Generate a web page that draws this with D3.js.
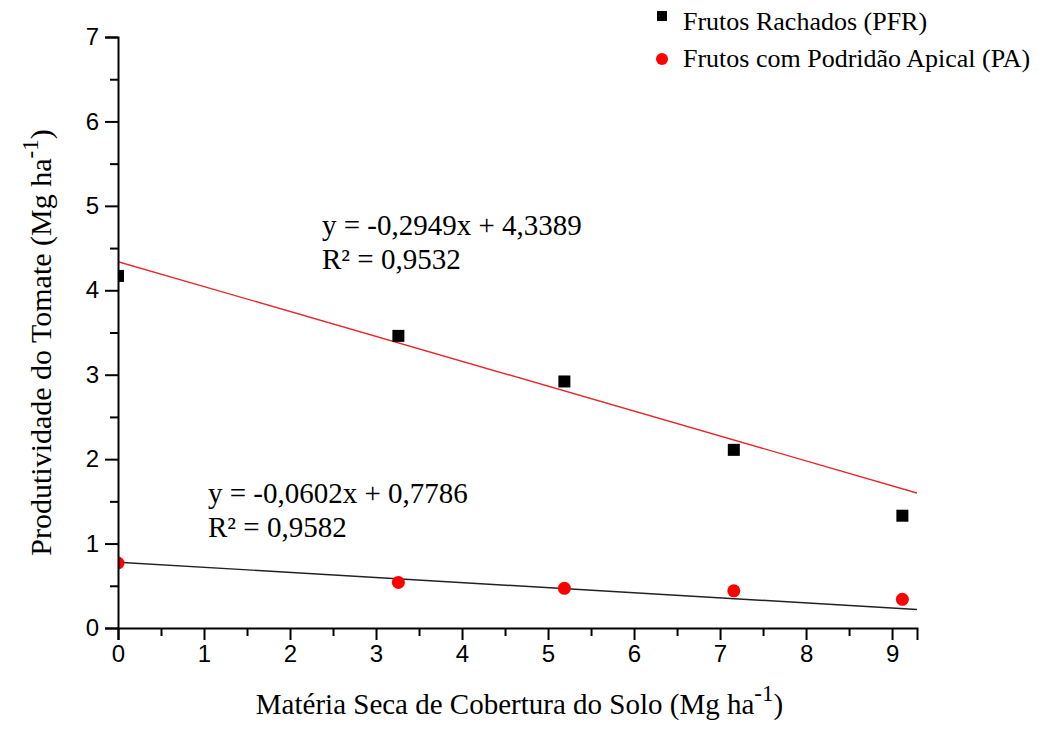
<!DOCTYPE html>
<html>
<head>
<meta charset="utf-8">
<script src="https://cdn.jsdelivr.net/npm/d3@7"></script>
<style>
  body { margin: 0; background: #fff; }
  svg { display: block; }
</style>
</head>
<body>
<svg id="chart"></svg>
<script>
// data
const xValues = [0, 3.26, 5.19, 7.16, 9.12];
const crackedValues = [4.17, 3.46, 2.92, 2.11, 1.33];   // Frutos Rachados (PFR)
const rotValues = [0.77, 0.54, 0.47, 0.44, 0.34];       // Frutos com Podridão Apical (PA)
const crackedFit = { slope: -0.2949, intercept: 4.3389 };
const rotFit = { slope: -0.0602, intercept: 0.7786 };
const xTicks = [0, 1, 2, 3, 4, 5, 6, 7, 8, 9];
const yTicks = [0, 1, 2, 3, 4, 5, 6, 7];
const seriesNames = ["Frutos Rachados (PFR)", "Frutos com Podridão Apical (PA)"];

const width = 1057, height = 729;
const margin = { top: 37, right: 140, bottom: 101, left: 118 };
const xMax = 9.29, yMax = 7;

const svg = d3.select("#chart").attr("width", width).attr("height", height);

const x = d3.scaleLinear().domain([0, xMax]).range([margin.left, width - margin.right]);
const y = d3.scaleLinear().domain([0, yMax]).range([height - margin.bottom, margin.top]);

svg.append("clipPath").attr("id", "plot-clip")
    .append("rect")
    .attr("x", margin.left).attr("y", margin.top)
    .attr("width", x(xMax) - margin.left).attr("height", y(0) - margin.top);

const plot = svg.append("g").attr("clip-path", "url(#plot-clip)");

// regression lines
const fitLine = (fit) => [0, xMax].map(v => [x(v), y(fit.intercept + fit.slope * v)]);
plot.append("path")
    .attr("d", d3.line()(fitLine(crackedFit)))
    .attr("stroke", "#e8262a").attr("stroke-width", 1.4).attr("fill", "none");
plot.append("path")
    .attr("d", d3.line()(fitLine(rotFit)))
    .attr("stroke", "#222").attr("stroke-width", 1.4).attr("fill", "none");

// points
const sq = 12;
plot.selectAll(".pfr")
    .data(xValues)
    .join("rect")
    .attr("class", "pfr")
    .attr("x", (d) => x(d) - sq / 2)
    .attr("y", (d, i) => y(crackedValues[i]) - sq / 2)
    .attr("width", sq).attr("height", sq)
    .attr("fill", "#000");

plot.selectAll(".pa")
    .data(xValues)
    .join("circle")
    .attr("class", "pa")
    .attr("cx", (d) => x(d))
    .attr("cy", (d, i) => y(rotValues[i]))
    .attr("r", 6.5)
    .attr("fill", "#ff0000");

// axes
const tickFont = "'Liberation Sans', Arial, sans-serif";
const xAxis = svg.append("g").attr("transform", `translate(0, ${y(0)})`);
xAxis.call(d3.axisBottom(x).tickValues(xTicks).tickSize(12).tickPadding(5).tickFormat(d3.format("d")));
const xMinor = svg.append("g").attr("transform", `translate(0, ${y(0)})`);
xMinor.call(d3.axisBottom(x).tickValues(xTicks.map(d => d + 0.5).filter(d => d < xMax)).tickSize(8).tickFormat(""));

const yAxis = svg.append("g").attr("transform", `translate(${margin.left}, 0)`);
yAxis.call(d3.axisLeft(y).tickValues(yTicks).tickSize(13).tickPadding(6).tickFormat(d3.format("d")));
const yMinor = svg.append("g").attr("transform", `translate(${margin.left}, 0)`);
yMinor.call(d3.axisLeft(y).tickValues(yTicks.slice(0, -1).map(d => d + 0.5)).tickSize(8).tickFormat(""));

svg.selectAll(".domain").attr("stroke", "#000").attr("stroke-width", 2);
svg.selectAll(".tick line").attr("stroke", "#000").attr("stroke-width", 2);
[xAxis, yAxis].forEach(ax => ax.attr("font-family", tickFont).attr("font-size", 24));
svg.selectAll(".tick text")
    .style("font-family", tickFont).style("font-size", "24px").attr("fill", "#000");
xMinor.select(".domain").remove();
yMinor.select(".domain").remove();

// axis titles
const serif = "'Liberation Serif', 'Times New Roman', serif";
const xTitle = svg.append("text")
    .attr("x", (x(0) + x(xMax)) / 2 + 2).attr("y", 714)
    .attr("text-anchor", "middle")
    .attr("font-family", serif).attr("font-size", "29px");
xTitle.append("tspan").text("Matéria Seca de Cobertura do Solo (Mg ha");
xTitle.append("tspan").attr("dy", -13).attr("font-size", "23px").text("-1");
xTitle.append("tspan").attr("dy", 13).text(")");

const yTitle = svg.append("text")
    .attr("transform", `translate(51, ${(y(0) + y(yMax)) / 2 + 10}) rotate(-90)`)
    .attr("text-anchor", "middle")
    .attr("font-family", serif).attr("font-size", "30px");
yTitle.append("tspan").text("Produtividade do Tomate (Mg ha");
yTitle.append("tspan").attr("dy", -13).attr("font-size", "23px").text("-1");
yTitle.append("tspan").attr("dy", 13).text(")");

// equations
const eqs = [
    { x: 322, y: 235, lines: ["y = -0,2949x + 4,3389", "R² = 0,9532"] },
    { x: 208, y: 503, lines: ["y = -0,0602x + 0,7786", "R² = 0,9582"] }
];
eqs.forEach(eq => {
    eq.lines.forEach((t, i) => {
        svg.append("text")
            .attr("x", eq.x).attr("y", eq.y + i * 34)
            .attr("font-family", serif).attr("font-size", "29px")
            .text(t);
    });
});

// legend
const legend = svg.append("g");
legend.append("rect").attr("x", 657).attr("y", 11).attr("width", 10).attr("height", 10).attr("fill", "#000");
legend.append("circle").attr("cx", 662).attr("cy", 59).attr("r", 6).attr("fill", "#ff0000");
seriesNames.forEach((name, i) => {
    legend.append("text")
        .attr("x", 683).attr("y", 30 + i * 37)
        .attr("font-family", serif).attr("font-size", "26px")
        .text(name);
});
</script>
</body>
</html>
